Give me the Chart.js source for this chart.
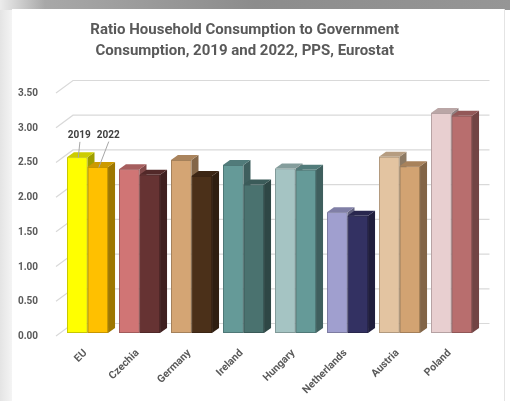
<!DOCTYPE html>
<html>
<head>
<meta charset="utf-8">
<script src="https://cdn.jsdelivr.net/npm/chart.js@4.4.1/dist/chart.umd.min.js"></script>
<style>
  html, body { margin: 0; padding: 0; }
  body { width: 510px; height: 401px; position: relative; overflow: hidden; background: #fff; }
  #shadeTop {
    position: absolute; left: 0; top: 0; width: 510px; height: 10px;
    background: linear-gradient(to right, #ececec 0, #a8a8a8 45px, #8c8c8c 50%, #969696 100%);
  }
  #shadeLeft {
    position: absolute; left: 0; top: 10px; width: 12px; height: 391px;
    background: linear-gradient(to right, #e4e4e4, #f4f4f4);
  }
  #card {
    position: absolute; left: 12px; top: 9px; width: 492px; height: 392px;
    background: #fff; border-right: 1px solid #e4e4e4;
  }
  #card canvas { display: block; }
</style>
</head>
<body>
<div id="shadeTop"></div>
<div id="shadeLeft"></div>
<div id="card"><canvas id="ratioChart" width="498" height="392"></canvas></div>
<script>
const countries = ['EU', 'Czechia', 'Germany', 'Ireland', 'Hungary', 'Netherlands', 'Austria', 'Poland'];
const ratio2019 = [2.53, 2.36, 2.49, 2.42, 2.37, 1.74, 2.54, 3.17];
const ratio2022 = [2.39, 2.28, 2.26, 2.14, 2.35, 1.69, 2.40, 3.13];
const yTicks = [0, 0.5, 1, 1.5, 2, 2.5, 3, 3.5];

// one colour per bar, like Excel's "vary colours by point"
const colors2019 = ['#FFFF00', '#D07575', '#D4A574', '#659A98', '#A5C4C3', '#A09FCF', '#E3C4A1', '#E8CFD0'];
const colors2022 = ['#FFC000', '#663333', '#4B3019', '#4A726F', '#659A98', '#333162', '#D2A372', '#B86E6E'];

const FONT = 'Roboto';
const TEXT = '#595959';
const BAR_DEPTH = { x: 7, y: 5 };
const WALL = { x: 12, y: 9.5 };

function shade(hex, f) {
    const n = parseInt(hex.slice(1), 16);
    const r = Math.round(((n >> 16) & 255) * f);
    const g = Math.round(((n >> 8) & 255) * f);
    const b = Math.round((n & 255) * f);
    return `rgb(${r}, ${g}, ${b})`;
}

// gridlines sit on the back wall, with a slanted piece running out to the labels
const backWall = {
    id: 'backWall',
    beforeDatasetsDraw(chart) {
        const { ctx, chartArea: a, scales: { y } } = chart;
        ctx.save();
        ctx.strokeStyle = '#d9d9d9';
        ctx.lineWidth = 1.2;
        y.ticks.forEach(t => {
            const py = y.getPixelForValue(t.value);
            ctx.beginPath();
            ctx.moveTo(a.left - 5.5, py + 3);
            ctx.lineTo(a.left + WALL.x - 0.5, py - WALL.y);
            ctx.lineTo(a.right + WALL.x, py - WALL.y);
            ctx.stroke();
        });
        ctx.restore();
    }
};

// top and side faces for every bar, drawn bar by bar so neighbours overlap properly
const bars3d = {
    id: 'bars3d',
    afterDatasetsDraw(chart) {
        const ctx = chart.ctx;
        const metas = chart.getSortedVisibleDatasetMetas();
        const dx = BAR_DEPTH.x, dy = BAR_DEPTH.y;
        for (let i = 0; i < chart.data.labels.length; i++) {
            metas.forEach(meta => {
                const bar = meta.data[i];
                const { x, y, base, width } = bar.getProps(['x', 'y', 'base', 'width'], true);
                const l = x - width / 2, r = x + width / 2;
                const col = meta.controller.getDataset().backgroundColor[i];
                ctx.save();
                ctx.fillStyle = shade(col, 0.62);
                ctx.beginPath();
                ctx.moveTo(r, y);
                ctx.lineTo(r + dx, y - dy);
                ctx.lineTo(r + dx, base - dy);
                ctx.lineTo(r, base);
                ctx.closePath();
                ctx.fill();
                ctx.fillStyle = shade(col, 0.8);
                ctx.beginPath();
                ctx.moveTo(l, y);
                ctx.lineTo(l + dx, y - dy);
                ctx.lineTo(r + dx, y - dy);
                ctx.lineTo(r, y);
                ctx.closePath();
                ctx.fill();
                ctx.restore();
                bar.draw(ctx);
            });
        }
    }
};

// series name tags with leader lines over the first category
const seriesTags = {
    id: 'seriesTags',
    afterDatasetsDraw(chart) {
        const ctx = chart.ctx;
        const offsets = [{ dx: 2, dy: -22, lx: 2.7 }, { dx: 10.5, dy: -32, lx: 11 }];
        ctx.save();
        ctx.font = `bold 10px ${FONT}`;
        ctx.textAlign = 'center';
        ctx.textBaseline = 'middle';
        chart.getSortedVisibleDatasetMetas().forEach((meta, d) => {
            const bar = meta.data[0];
            const o = offsets[d];
            const ty = bar.y + o.dy;
            ctx.fillStyle = '#404040';
            ctx.fillText(chart.data.datasets[d].label, bar.x + o.dx, ty);
            ctx.strokeStyle = '#a6a6a6';
            ctx.lineWidth = 1;
            ctx.beginPath();
            ctx.moveTo(bar.x + o.lx, ty + 6.5);
            ctx.lineTo(bar.x + 1, bar.y + 0.5);
            ctx.stroke();
        });
        ctx.restore();
    }
};

new Chart(document.getElementById('ratioChart'), {
    type: 'bar',
    data: {
        labels: countries,
        datasets: [
            {
                label: '2019',
                data: ratio2019,
                backgroundColor: colors2019,
                borderColor: colors2019.map(c => shade(c, 0.78)),
                borderWidth: 1,
                borderSkipped: false
            },
            {
                label: '2022',
                data: ratio2022,
                backgroundColor: colors2022,
                borderColor: colors2022.map(c => shade(c, 0.78)),
                borderWidth: 1,
                borderSkipped: false
            }
        ]
    },
    options: {
        responsive: false,
        animation: false,
        layout: { padding: { left: 0, right: 32.5, top: 0, bottom: 0 } },
        datasets: { bar: { categoryPercentage: 0.79, barPercentage: 1 } },
        plugins: {
            legend: { display: false },
            tooltip: { enabled: false },
            title: {
                display: true,
                text: ['Ratio Household Consumption to Government', 'Consumption, 2019 and 2022, PPS, Eurostat'],
                color: TEXT,
                font: { family: FONT, size: 15, weight: 'bold', lineHeight: 1.4 },
                padding: { top: 10.5, bottom: 28.5 }
            }
        },
        scales: {
            x: {
                grid: { display: false },
                border: { display: false },
                ticks: {
                    color: TEXT,
                    font: { family: FONT, size: 10.5, weight: 'bold' },
                    minRotation: 45,
                    maxRotation: 45,
                    padding: 6,
                    labelOffset: -2
                },
                afterFit(scale) { scale.height = 68; }
            },
            y: {
                min: 0,
                max: 3.5,
                grid: { display: false },
                border: { display: false },
                afterBuildTicks(scale) { scale.ticks = yTicks.map(v => ({ value: v })); },
                ticks: {
                    color: TEXT,
                    font: { family: FONT, size: 10, weight: 'bold' },
                    padding: 15.5,
                    labelOffset: 3.5,
                    callback: v => Number(v).toFixed(2)
                },
                afterFit(scale) { scale.width = 49.5; }
            }
        }
    },
    plugins: [backWall, bars3d, seriesTags]
});
</script>
</body>
</html>
